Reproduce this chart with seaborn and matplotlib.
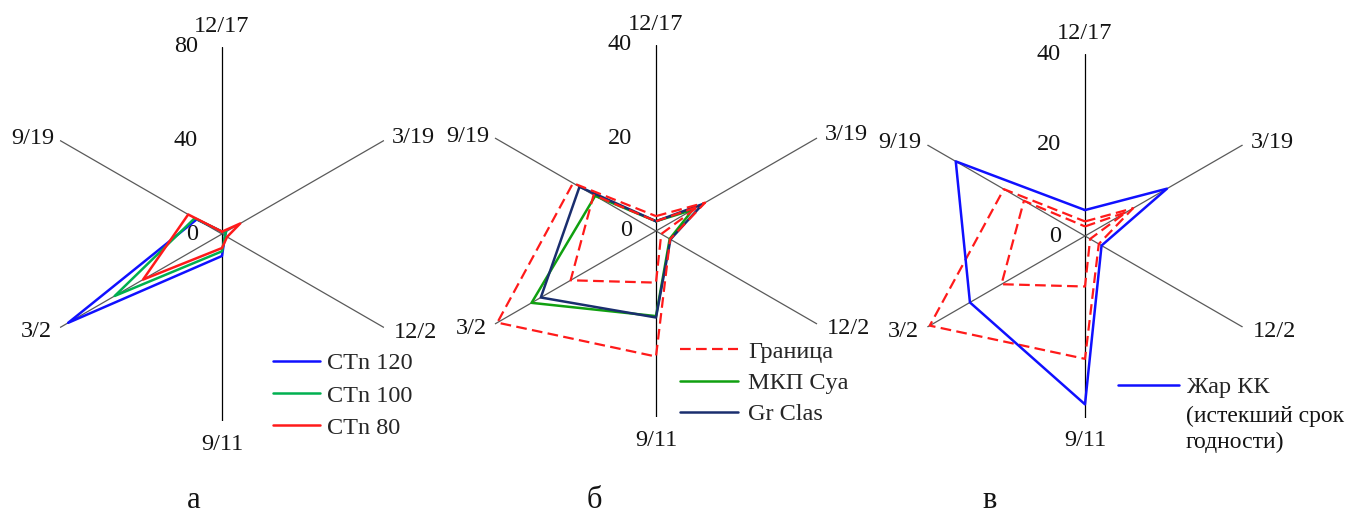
import numpy as np
import matplotlib
matplotlib.use("Agg")
import matplotlib.pyplot as plt
from matplotlib.lines import Line2D
import seaborn as sns

sns.set_theme(style="white")
plt.rcParams['font.family'] = ['Liberation Serif', 'DejaVu Serif']

# ---- data ----
categories = ["12/17", "3/19", "12/2", "9/11", "3/2", "9/19"]

# panel а (scale 0..80)
ctn120 = [1.0, 2.0, 1.5, 9.4, 76.0, 12.5]
ctn100 = [1.0, 2.0, 1.5, 7.4, 53.0, 13.5]
ctn80 = [1.0, 9.0, 2.5, 6.0, 39.0, 16.7]

# boundary ("Граница"), outer and inner contour (scale 0..40)
border_outer = [3.2, 12.2, 3.5, 27.0, 39.4, 20.6]
border_inner = [2.1, 10.5, 1.3, 11.1, 21.2, 15.5]

# panel б
mkp_cya = [2.1, 9.1, 3.4, 18.3, 30.9, 15.1]
gr_clas = [2.1, 11.6, 3.6, 18.6, 28.6, 19.0]

# panel в
zhar_kk = [5.7, 20.8, 4.2, 37.0, 29.2, 32.8]

ticks_a = [0, 40, 80]
ticks_bc = [0, 20, 40]

W, H = 1348, 514
FS = 17.5
TXT = '#141414'
fig = plt.figure(figsize=(W / 100, H / 100), dpi=100)

theta = np.arange(len(categories)) * 2 * np.pi / len(categories)
theta_closed = np.append(theta, 2 * np.pi)


def closed(v):
    return np.append(np.asarray(v, float), v[0])


def make_ax(cx, cy, R, rmax, ticks):
    ax = fig.add_axes([(cx - R) / W, (H - cy - R) / H, 2 * R / W, 2 * R / H],
                      projection='polar')
    ax.set_theta_offset(np.pi / 2)
    ax.set_theta_direction(-1)
    ax.set_ylim(0, rmax)
    ax.grid(False)
    ax.set_xticks([])
    ax.set_yticks([])
    ax.spines['polar'].set_visible(False)
    ax.patch.set_alpha(0)
    for i, t in enumerate(theta):
        col = 'black' if i in (0, 3) else '#5a5a5a'
        ax.plot([t, t], [0, rmax], color=col, lw=0.9, zorder=1)
    offs = [((0, 21), 'center'), ((8, 3), 'left'), ((10, -5), 'left'),
            ((0, -23), 'center'), ((-8, -4), 'right'), ((-6, 2), 'right')]
    for t, lab, (off, ha) in zip(theta, categories, offs):
        ax.annotate(lab, xy=(t, rmax), xytext=off, textcoords='offset pixels',
                    ha=ha, va='center', fontsize=FS, color=TXT)
    for v in ticks:
        ax.annotate(str(v), xy=(0, v), xytext=(-24, 0), textcoords='offset pixels',
                    ha='right', va='center', fontsize=FS, color=TXT)
    return ax


def series(ax, vals, color, lw=1.8, ls='-'):
    sns.lineplot(x=theta_closed, y=closed(vals), sort=False, estimator=None,
                 ax=ax, color=color, lw=lw, linestyle=ls, legend=False, zorder=3)


red = '#ff1a1a'
dash = (0, (4.8, 2.4))

# panel а
ax1 = make_ax(222, 234, 187, 80, ticks_a)
series(ax1, ctn120, '#1010ff')
series(ax1, ctn100, '#00b050')
series(ax1, ctn80, red)
h1 = [Line2D([], [], color='#1010ff', lw=1.8), Line2D([], [], color='#00b050', lw=1.8),
      Line2D([], [], color=red, lw=1.8)]
ax1.legend(h1, ["CTn 120", "CTn 100", "CTn 80"], loc='center left',
           bbox_to_anchor=(273 / W, 1 - 395.5 / H), bbox_transform=fig.transFigure,
           frameon=False, fontsize=FS, handlelength=1.95, handletextpad=0.28,
           labelspacing=0.42, borderpad=0, borderaxespad=0)

# panel б
ax2 = make_ax(656, 231, 186, 40, ticks_bc)
series(ax2, mkp_cya, '#10a010')
series(ax2, gr_clas, '#1a2e6e')
series(ax2, border_outer, red, lw=1.6, ls=dash)
series(ax2, border_inner, red, lw=1.6, ls=dash)
h2 = [Line2D([], [], color=red, lw=1.6, linestyle=dash), Line2D([], [], color='#10a010', lw=1.8),
      Line2D([], [], color='#1a2e6e', lw=1.8)]
ax2.legend(h2, ["Граница", "МКП Cya", "Gr Clas"], loc='center left',
           bbox_to_anchor=(680 / W, 1 - 383 / H), bbox_transform=fig.transFigure,
           frameon=False, fontsize=FS, handlelength=2.4, handletextpad=0.4,
           labelspacing=0.38, borderpad=0, borderaxespad=0)

# panel в
ax3 = make_ax(1085, 236, 182, 40, ticks_bc)
series(ax3, border_outer, red, lw=1.6, ls=dash)
series(ax3, border_inner, red, lw=1.6, ls=dash)
series(ax3, zhar_kk, '#1010ff')
h3 = [Line2D([], [], color='#1010ff', lw=1.8)]
ax3.legend(h3, ["Жар КК"], loc='center left',
           bbox_to_anchor=(1118 / W, 1 - 387 / H), bbox_transform=fig.transFigure,
           frameon=False, fontsize=FS, handlelength=2.5, handletextpad=0.33,
           borderpad=0, borderaxespad=0)
fig.text(1186 / W, 1 - 429.5 / H, "(истекший срок\nгодности)", ha='left', va='center',
         fontsize=17, linespacing=1.3, color=TXT)

# panel letters
for x, s in [(194, "а"), (594, "б"), (990, "в")]:
    fig.text(x / W, 1 - 500 / H, s, ha='center', va='center', fontsize=22, color=TXT)

fig.savefig("out.png", dpi=100, facecolor='white')
